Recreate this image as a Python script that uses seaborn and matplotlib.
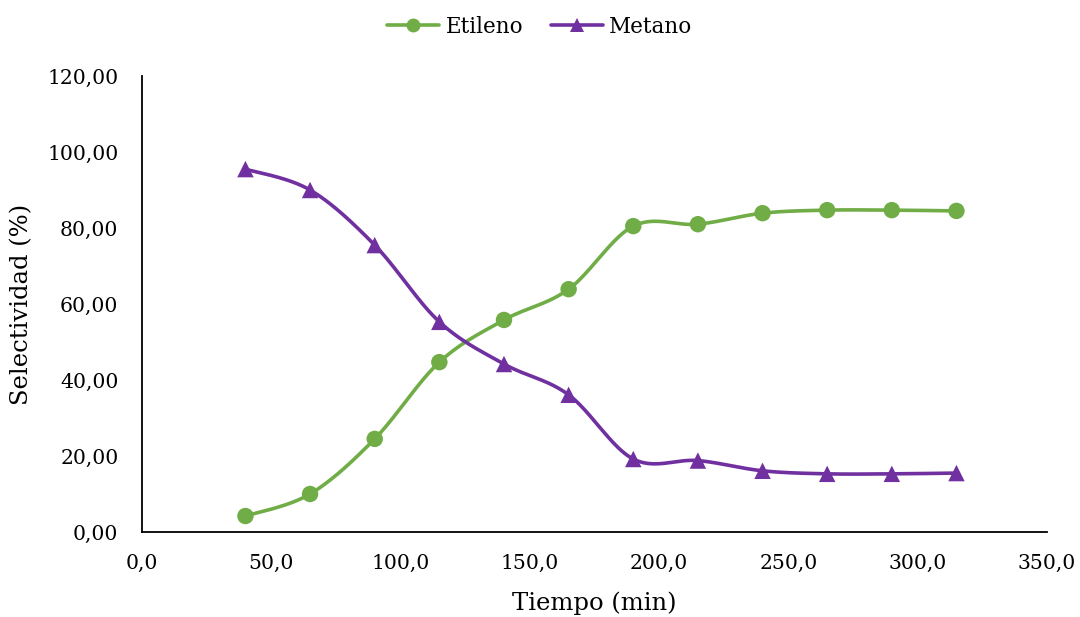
import numpy as np
import pandas as pd
import matplotlib
matplotlib.use("Agg")
import matplotlib.pyplot as plt
from matplotlib.lines import Line2D
from matplotlib.ticker import FuncFormatter
import seaborn as sns

# Reaction time (min) and selectivity (%) for each product
tiempo = [40, 65, 90, 115, 140, 165, 190, 215, 240, 265, 290, 315]
etileno = [4.2, 10.0, 24.5, 44.7, 55.8, 63.9, 80.5, 81.0, 83.9, 84.7, 84.7, 84.5]
metano = [95.5, 90.0, 75.5, 55.3, 44.2, 36.1, 19.2, 18.8, 16.1, 15.3, 15.3, 15.5]

series_names = ["Etileno", "Metano"]
series_colors = {"Etileno": "#70AD47", "Metano": "#7030A0"}
series_markers = {"Etileno": "o", "Metano": "^"}

sns.set_theme(style="white")
plt.rcParams["font.family"] = ["DejaVu Serif"]
plt.rcParams["text.color"] = "black"
plt.rcParams["axes.labelcolor"] = "black"


def smooth_curve(xs, ys, steps=40):
    """Catmull-Rom style Bezier through every point (smoothed line)."""
    xs = np.asarray(xs, float)
    ys = np.asarray(ys, float)
    pts = np.column_stack([xs, ys])
    n = len(pts)
    out = []
    t = np.linspace(0, 1, steps)[:, None]
    for i in range(n - 1):
        p0 = pts[i - 1] if i > 0 else pts[i]
        p1 = pts[i]
        p2 = pts[i + 1]
        p3 = pts[i + 2] if i + 2 < n else pts[i + 1]
        c1 = p1 + (p2 - p0) / 6.0
        c2 = p2 - (p3 - p1) / 6.0
        seg = ((1 - t) ** 3) * p1 + 3 * ((1 - t) ** 2) * t * c1 + 3 * (1 - t) * t ** 2 * c2 + t ** 3 * p2
        out.append(seg if i == 0 else seg[1:])
    arr = np.vstack(out)
    return arr[:, 0], arr[:, 1]


points = pd.DataFrame({
    "Tiempo": tiempo * 2,
    "Selectividad": etileno + metano,
    "Serie": ["Etileno"] * len(tiempo) + ["Metano"] * len(tiempo),
})

curves = []
for name in series_names:
    sub = points[points["Serie"] == name]
    cx, cy = smooth_curve(sub["Tiempo"], sub["Selectividad"])
    curves.append(pd.DataFrame({"Tiempo": cx, "Selectividad": cy, "Serie": name}))
curves = pd.concat(curves, ignore_index=True)

fig = plt.figure(figsize=(10.8, 6.17), dpi=100)
ax = fig.add_axes([0.1315, 0.1378, 0.8379, 0.739])

for name in series_names:
    sub = curves[curves["Serie"] == name]
    ax.plot(sub["Tiempo"], sub["Selectividad"], color=series_colors[name],
            lw=2.6, solid_capstyle="round", zorder=2)

sns.scatterplot(data=points, x="Tiempo", y="Selectividad", hue="Serie",
                style="Serie", palette=series_colors, markers=series_markers,
                hue_order=series_names, style_order=series_names,
                s=140, linewidth=0, legend=False, ax=ax, zorder=3)

ax.set_xlim(0, 350)
ax.set_ylim(0, 120)
ax.set_xticks(np.arange(0, 351, 50))
ax.set_yticks(np.arange(0, 121, 20))
ax.xaxis.set_major_formatter(FuncFormatter(lambda v, p: f"{v:.1f}".replace(".", ",")))
ax.yaxis.set_major_formatter(FuncFormatter(lambda v, p: f"{v:.2f}".replace(".", ",")))
ax.tick_params(axis="both", length=0, labelsize=14.7, colors="black")
ax.tick_params(axis="y", pad=17)
ax.tick_params(axis="x", pad=16)

for side in ["top", "right"]:
    ax.spines[side].set_visible(False)
for side in ["left", "bottom"]:
    ax.spines[side].set_color("black")
    ax.spines[side].set_linewidth(1.3)

ax.set_xlabel("Tiempo (min)", fontsize=17.5, color="black", va="center")
ax.set_ylabel("Selectividad (%)", fontsize=17.5, color="black", va="center")
ax.xaxis.set_label_coords(0.5, -0.1557)
ax.yaxis.set_label_coords(-0.1326, 0.5)

handles = [Line2D([0], [0], color=series_colors[n], lw=2.6, marker=series_markers[n],
                  markersize=10, markeredgewidth=0) for n in series_names]
fig.legend(handles, series_names, loc="upper center", bbox_to_anchor=(0.5, 1.006),
           ncol=2, frameon=False, fontsize=15.5, handlelength=2.4, columnspacing=1.3,
           handletextpad=0.3, labelcolor="black")

fig.savefig("out.png", dpi=100, facecolor="white")
